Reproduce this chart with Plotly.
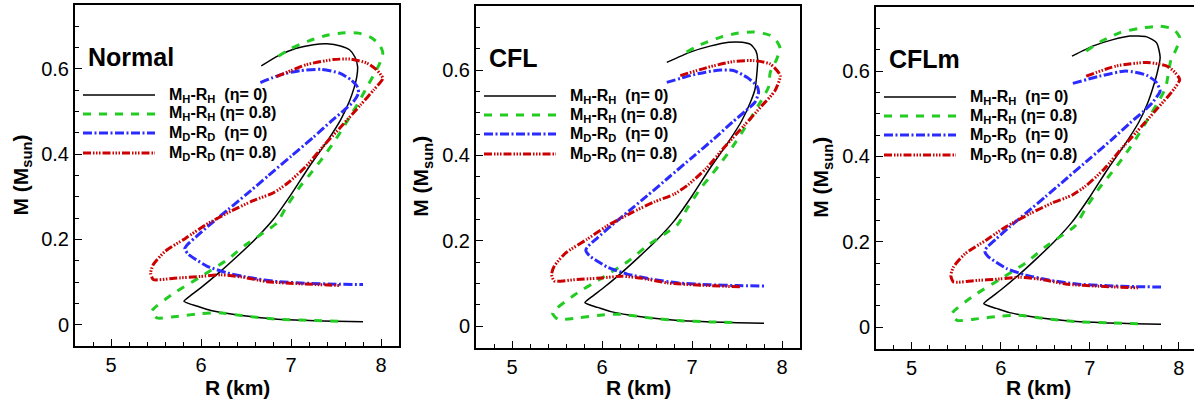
import plotly.graph_objects as go

# ---------------- data: mass-radius curves (R in km, M in M_sun) ----------------
panel_names = ["Normal", "CFL", "CFLm"]

# Lower branches (shared shape in all three panels)
black_lower_R = [7.70, 7.65, 7.55, 7.40, 7.20, 7.00, 6.80, 6.60, 6.40, 6.20, 6.00, 5.90, 5.81,
                 5.86, 5.95, 6.10, 6.30, 6.55, 6.85, 7.20, 7.50, 7.80]
black_lower_M = [0.555, 0.525, 0.480, 0.430, 0.370, 0.305, 0.246, 0.200, 0.160, 0.122, 0.087, 0.071, 0.055,
                 0.050, 0.044, 0.034, 0.026, 0.019, 0.013, 0.010, 0.008, 0.007]

green_lower_R = [7.85, 7.76, 7.66, 7.55, 7.45, 7.33, 7.20, 7.10, 6.95, 6.84, 6.69, 6.50, 6.29, 6.00,
                 5.70, 5.45, 5.51, 5.75, 6.00, 6.20, 6.50, 6.85, 7.20, 7.54]
green_lower_M = [0.560, 0.525, 0.490, 0.452, 0.420, 0.385, 0.350, 0.324, 0.277, 0.238, 0.215, 0.188, 0.152, 0.113,
                 0.074, 0.031, 0.016, 0.020, 0.026, 0.028, 0.020, 0.013, 0.010, 0.008]

blue_lower_R = [7.70, 7.60, 7.45, 7.25, 7.00, 6.75, 6.50, 6.30, 6.10, 5.95, 5.85, 5.82,
                5.86, 5.95, 6.07, 6.28, 6.55, 6.85, 7.20, 7.50, 7.80]
blue_lower_M = [0.525, 0.505, 0.478, 0.440, 0.395, 0.350, 0.305, 0.270, 0.235, 0.207, 0.188, 0.178,
                0.165, 0.152, 0.137, 0.122, 0.110, 0.101, 0.097, 0.095, 0.094]

red_lower_R = [7.92, 7.77, 7.58, 7.38, 7.16, 6.95, 6.80, 6.58, 6.33, 6.05, 5.83, 5.60, 5.47, 5.44,
               5.47, 5.70, 5.99, 6.22, 6.45, 6.73, 7.10, 7.54]
red_lower_M = [0.551, 0.515, 0.470, 0.424, 0.370, 0.330, 0.309, 0.291, 0.266, 0.234, 0.203, 0.172, 0.141, 0.121,
               0.106, 0.109, 0.113, 0.117, 0.112, 0.101, 0.096, 0.092]

# Upper branches, one per panel (Normal, CFL, CFLm)
black_upper_R = [
    [6.67, 6.85, 7.05, 7.25, 7.40, 7.55, 7.65, 7.71, 7.74, 7.73],
    [6.72, 6.98, 7.20, 7.41, 7.56, 7.65, 7.71, 7.73, 7.72],
    [6.80, 7.04, 7.25, 7.45, 7.64, 7.75, 7.79, 7.75],
]
black_upper_M = [
    [0.607, 0.630, 0.648, 0.657, 0.659, 0.654, 0.645, 0.628, 0.606, 0.580],
    [0.618, 0.642, 0.656, 0.665, 0.665, 0.660, 0.645, 0.625, 0.590],
    [0.635, 0.659, 0.673, 0.682, 0.680, 0.666, 0.632, 0.590],
]
green_upper_R = [
    [6.86, 7.00, 7.20, 7.40, 7.60, 7.75, 7.88, 7.98, 8.02, 7.99, 7.93],
    [6.94, 7.10, 7.32, 7.50, 7.69, 7.87, 7.95, 7.98, 7.94, 7.87],
    [6.96, 7.15, 7.34, 7.56, 7.79, 7.94, 8.01, 7.97, 7.91],
]
green_upper_M = [
    [0.630, 0.648, 0.666, 0.679, 0.685, 0.684, 0.675, 0.658, 0.638, 0.615, 0.590],
    [0.642, 0.660, 0.677, 0.686, 0.689, 0.681, 0.665, 0.650, 0.625, 0.595],
    [0.647, 0.672, 0.690, 0.700, 0.705, 0.698, 0.678, 0.651, 0.625],
]
blue_upper_R = [
    [6.66, 6.88, 7.10, 7.34, 7.54, 7.67, 7.74, 7.75],
    [6.72, 6.98, 7.15, 7.32, 7.46, 7.61, 7.72, 7.74],
    [6.81, 7.11, 7.41, 7.64, 7.75, 7.79, 7.77],
]
blue_upper_M = [
    [0.568, 0.586, 0.596, 0.599, 0.590, 0.574, 0.557, 0.543],
    [0.571, 0.587, 0.595, 0.600, 0.599, 0.583, 0.563, 0.548],
    [0.571, 0.588, 0.600, 0.590, 0.573, 0.553, 0.545],
]
red_upper_R = [
    [6.84, 7.00, 7.17, 7.47, 7.66, 7.84, 7.95, 8.02],
    [6.87, 7.17, 7.46, 7.69, 7.87, 7.98],
    [6.96, 7.30, 7.64, 7.86, 7.95, 8.01],
]
red_upper_M = [
    [0.582, 0.596, 0.610, 0.622, 0.623, 0.614, 0.598, 0.578],
    [0.587, 0.606, 0.620, 0.622, 0.614, 0.587],
    [0.588, 0.612, 0.620, 0.612, 0.598, 0.580],
]

legend_labels = [
    "M<sub>H</sub>-R<sub>H</sub>\u00a0\u00a0(\u03b7= 0)",
    "M<sub>H</sub>-R<sub>H</sub> (\u03b7= 0.8)",
    "M<sub>D</sub>-R<sub>D</sub>\u00a0\u00a0(\u03b7= 0)",
    "M<sub>D</sub>-R<sub>D</sub> (\u03b7= 0.8)",
]

# ---------------- styles ----------------
styles = [
    dict(color="#000000", width=1.5, dash="solid"),
    dict(color="#22cc22", width=3, dash="8px,8px"),
    dict(color="#2b2bff", width=3, dash="9px,2.5px,2px,2.5px"),
    dict(color="#cc0000", width=3, dash="8px,2px,1.5px,1.5px,1.5px,1.5px,1.5px,2px"),
]

FONT = "Liberation Sans, Arial, sans-serif"
W, H = 1194, 404
# panel boxes in pixels: left, right, top, bottom
boxes = [(75, 399, 5, 346), (476, 800, 6, 347.5), (876, 1194, 7, 348.5)]
x_ranges = [[4.6, 8.2], [4.6, 8.2], [4.6, 8.17]]
y_range = [-0.05, 0.75]

fig = go.Figure()

for p in range(3):
    xa = "x" if p == 0 else f"x{p+1}"
    ya = "y" if p == 0 else f"y{p+1}"
    curves = [
        (black_upper_R[p] + black_lower_R, black_upper_M[p] + black_lower_M),
        (green_upper_R[p] + green_lower_R, green_upper_M[p] + green_lower_M),
        (blue_upper_R[p] + blue_lower_R, blue_upper_M[p] + blue_lower_M),
        (red_upper_R[p] + red_lower_R, red_upper_M[p] + red_lower_M),
    ]
    for (r, m), st, name in zip(curves, styles, legend_labels):
        fig.add_trace(go.Scatter(
            x=r, y=m, mode="lines", name=name, showlegend=False,
            line=dict(color=st["color"], width=st["width"], dash=st["dash"],
                      shape="spline", smoothing=0.6),
            xaxis=xa, yaxis=ya, hoverinfo="skip",
        ))

    left, right, top, bottom = boxes[p]
    xdom = [left / W, min(right / W, 1.0)]
    ydom = [1 - bottom / H, 1 - top / H]
    axis_common = dict(
        showgrid=False, zeroline=False, showline=True, linecolor="black", linewidth=2,
        ticks="inside", tickcolor="black", tickwidth=1.2, ticklen=7,
        tickfont=dict(family=FONT, size=20, color="black"),
    )
    fig.update_layout(**{
        ("xaxis" if p == 0 else f"xaxis{p+1}"): dict(
            axis_common, domain=xdom, range=x_ranges[p], anchor=ya,
            tickvals=[5, 6, 7, 8], mirror=True,
            minor=dict(ticks="inside", dtick=0.2, ticklen=4, tickcolor="black", tickwidth=1.2),
        ),
        ("yaxis" if p == 0 else f"yaxis{p+1}"): dict(
            axis_common, domain=ydom, range=y_range, anchor=xa,
            tickvals=[0, 0.2, 0.4, 0.6], ticktext=["0", "0.2", "0.4", "0.6"],
            mirror=(p < 2),
            minor=dict(ticks="inside", dtick=0.05, ticklen=4, tickcolor="black", tickwidth=1.2),
        ),
    })

    xd = f"{xa} domain"
    yd = f"{ya} domain"
    pw = right - left
    ph = bottom - top

    # panel label
    fig.add_annotation(text=f"<b>{panel_names[p]}</b>", xref=xd, yref=yd,
                       x=11 / pw, y=1 - 52 / ph, xanchor="left", yanchor="middle",
                       showarrow=False, font=dict(family=FONT, size=25, color="black"))

    # legend: line samples + labels
    row_y = [90, 109, 128, 148]
    for ry, st, lab in zip(row_y, styles, legend_labels):
        yy = 1 - ry / ph
        fig.add_shape(type="line", xref=xd, yref=yd, x0=8 / pw, x1=80 / pw, y0=yy, y1=yy,
                      line=dict(color=st["color"], width=st["width"], dash=st["dash"]))
        fig.add_annotation(text=f"<b>{lab}</b>", xref=xd, yref=yd, x=92 / pw, y=yy,
                           xanchor="left", yanchor="middle", showarrow=False,
                           font=dict(family=FONT, size=16, color="black"))

    # axis titles
    fig.add_annotation(text="<b>R (km)</b>", xref=xd, yref="paper",
                       x=0.5 if p < 2 else (399 - 75) / 2 / pw, y=1 - 387 / H,
                       xanchor="center", yanchor="middle", showarrow=False,
                       font=dict(family=FONT, size=21, color="black"))
    fig.add_annotation(text="<b>M (M<sub>sun</sub>)</b>", xref="paper", yref=yd,
                       x=(left - 54) / W, y=0.5, textangle=-90,
                       xanchor="center", yanchor="middle", showarrow=False,
                       font=dict(family=FONT, size=21, color="black"))

fig.update_layout(
    width=W, height=H, margin=dict(l=0, r=0, t=0, b=0),
    paper_bgcolor="white", plot_bgcolor="white", showlegend=False,
)

fig.write_html("out.html")
